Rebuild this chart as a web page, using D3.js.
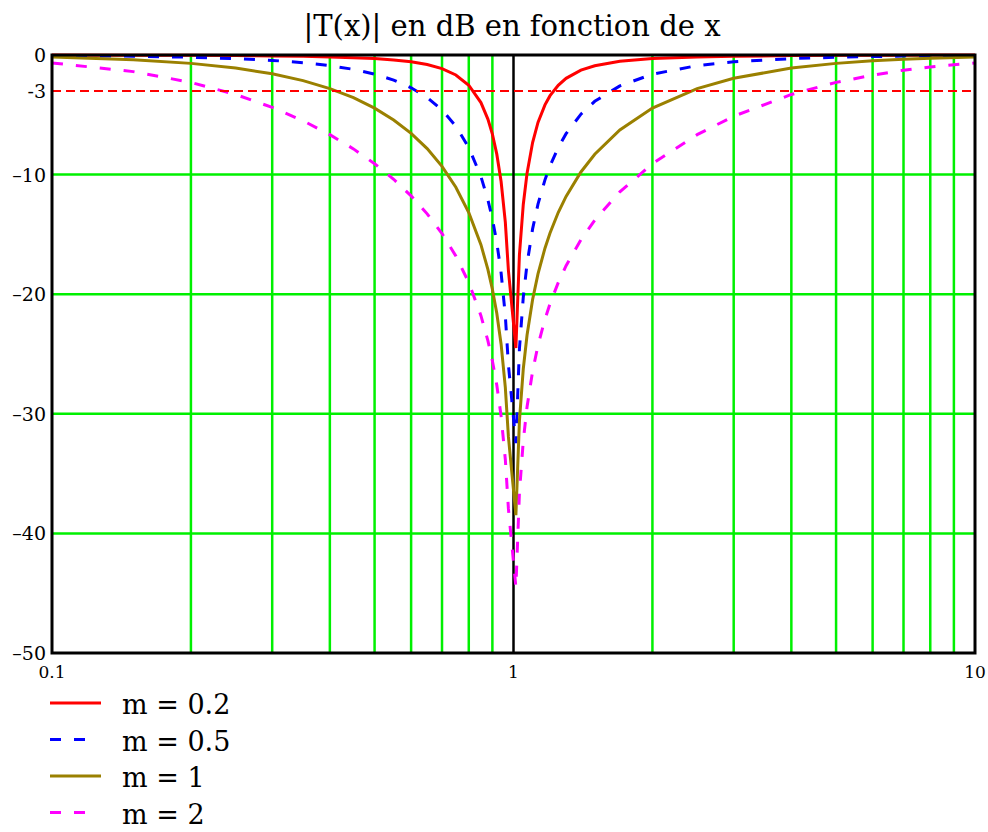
<!DOCTYPE html>
<html>
<head>
<meta charset="utf-8">
<script src="https://cdn.jsdelivr.net/npm/d3@7"></script>
<style>
  body { margin: 0; background: #fff; }
  svg { display: block; }
</style>
</head>
<body>
<div id="chart"></div>
<script>

// x values (reduced frequency) read along the log axis
var xs = [0.1, 0.15, 0.2, 0.25, 0.3, 0.35, 0.4, 0.45, 0.5, 0.55, 0.6, 0.65, 0.7, 0.75, 0.8, 0.85, 0.88, 0.9, 0.92, 0.94, 0.96, 0.975,
          1.012, 1.03, 1.05, 1.07, 1.1, 1.13, 1.17, 1.2, 1.25, 1.3, 1.4, 1.5, 1.7, 2, 2.5, 3, 4, 5, 6, 7, 8, 10];

// |T(x)| in dB, one array per m
var db_m02 = [-0.01, -0.02, -0.03, -0.05, -0.08, -0.11, -0.16, -0.22, -0.30, -0.41, -0.57, -0.80, -1.14, -1.67, -2.53, -3.98, -5.36, -6.62, -8.29, -10.58, -13.98, -18.02,
              -24.5, -16.7, -12.5, -9.88, -7.32, -5.64, -4.17, -3.40, -2.53, -1.95, -1.27, -0.90, -0.53, -0.30, -0.16, -0.10, -0.05, -0.03, -0.02, -0.02, -0.01, -0.01];
var db_m05 = [-0.04, -0.10, -0.19, -0.30, -0.45, -0.64, -0.89, -1.20, -1.60, -2.10, -2.74, -3.55, -4.60, -5.95, -7.74, -10.16, -12.10, -13.70, -15.67, -18.21, -21.79, -25.92,
              -32.45, -24.58, -20.25, -17.45, -14.54, -12.47, -10.44, -9.26, -7.74, -6.58, -4.95, -3.87, -2.58, -1.60, -0.89, -0.57, -0.30, -0.19, -0.13, -0.09, -0.07, -0.04];
var db_m1 = [-0.17, -0.39, -0.70, -1.09, -1.57, -2.14, -2.81, -3.57, -4.44, -5.43, -6.55, -7.83, -9.31, -11.06, -13.17, -15.86, -17.92, -19.58, -21.60, -24.18, -27.79, -31.93,
             -38.47, -30.59, -26.24, -23.41, -20.44, -18.30, -16.15, -14.88, -13.17, -11.82, -9.78, -8.30, -6.27, -4.44, -2.81, -1.94, -1.09, -0.70, -0.48, -0.36, -0.27, -0.17];
var db_m2 = [-0.66, -1.39, -2.29, -3.30, -4.38, -5.50, -6.66, -7.85, -9.09, -10.39, -11.78, -13.28, -14.93, -16.81, -19.03, -21.79, -23.88, -25.56, -27.60, -30.19, -33.80, -37.95,
             -44.49, -36.61, -32.25, -29.41, -26.44, -24.27, -22.09, -20.79, -19.03, -17.62, -15.44, -13.81, -11.44, -9.09, -6.66, -5.12, -3.30, -2.29, -1.68, -1.27, -1.00, -0.66];

var legendLabels = ["m = 0.2", "m = 0.5", "m = 1", "m = 2"];
var yTicks = [0, -3, -10, -20, -30, -40, -50];
var yTickLabels = ["0", "-3", "\u201310", "\u201320", "\u201330", "\u201340", "\u201350"];
var xTicks = [0.1, 1, 10];
var xTickLabels = ["0.1", "1", "10"];
var xGrid = [0.2, 0.3, 0.4, 0.5, 0.6, 0.7, 0.8, 0.9, 2, 3, 4, 5, 6, 7, 8, 9];
var yGrid = [-10, -20, -30, -40];

var series = [
  { values: db_m02, color: "#ff0000", dash: null },
  { values: db_m05, color: "#0000ff", dash: "11,13" },
  { values: db_m1,  color: "#9a8000", dash: null },
  { values: db_m2,  color: "#ff00ff", dash: "11,13" }
];

var serif = "'DejaVu Serif', 'Liberation Serif', serif";
var width = 988, height = 832;

var svg = d3.select("#chart").append("svg")
  .attr("width", width)
  .attr("height", height)
  .attr("font-family", serif);

var x = d3.scaleLog().domain([0.1, 10]).range([52, 975]);
var y = d3.scaleLinear().domain([-50, 0]).range([653, 55]);

// title
svg.append("text")
  .attr("x", 512)
  .attr("y", 36)
  .attr("text-anchor", "middle")
  .attr("font-size", 29)
  .text("|T(x)|  en dB en fonction de x");

// green grid
svg.selectAll(".vgrid")
  .data(xGrid)
  .enter()
  .append("line")
  .attr("class", "vgrid")
  .attr("x1", function(d){ return x(d) })
  .attr("x2", function(d){ return x(d) })
  .attr("y1", y(0))
  .attr("y2", y(-50))
  .attr("stroke", "#00f000")
  .attr("stroke-width", 2.5);

svg.selectAll(".hgrid")
  .data(yGrid)
  .enter()
  .append("line")
  .attr("class", "hgrid")
  .attr("x1", x(0.1))
  .attr("x2", x(10))
  .attr("y1", function(d){ return y(d) })
  .attr("y2", function(d){ return y(d) })
  .attr("stroke", "#00f000")
  .attr("stroke-width", 2.5);

// black line at x = 1
svg.append("line")
  .attr("x1", x(1)).attr("x2", x(1))
  .attr("y1", y(0)).attr("y2", y(-50))
  .attr("stroke", "#000")
  .attr("stroke-width", 2.5);

// curves
var line = d3.line()
  .x(function(d){ return x(d[0]) })
  .y(function(d){ return y(d[1]) });

series.forEach(function(s){
  svg.append("path")
    .datum(xs.map(function(v, i){ return [v, s.values[i]] }))
    .attr("fill", "none")
    .attr("stroke", s.color)
    .attr("stroke-width", 3)
    .attr("stroke-dasharray", s.dash)
    .attr("d", line);
});

// -3 dB line
svg.append("line")
  .attr("x1", x(0.1)).attr("x2", x(10))
  .attr("y1", y(-3)).attr("y2", y(-3))
  .attr("stroke", "#ff0000")
  .attr("stroke-width", 2)
  .attr("stroke-dasharray", "9,5");

// frame
svg.append("rect")
  .attr("x", x(0.1))
  .attr("y", y(0))
  .attr("width", x(10) - x(0.1))
  .attr("height", y(-50) - y(0))
  .attr("fill", "none")
  .attr("stroke", "#000")
  .attr("stroke-width", 3);

// y labels
svg.selectAll(".ylab")
  .data(yTicks)
  .enter()
  .append("text")
  .attr("class", "ylab")
  .attr("x", 46)
  .attr("y", function(d){ return y(d) + 7 })
  .attr("text-anchor", "end")
  .attr("font-size", 19)
  .text(function(d, i){ return yTickLabels[i] });

// x labels
svg.selectAll(".xlab")
  .data(xTicks)
  .enter()
  .append("text")
  .attr("class", "xlab")
  .attr("x", function(d){ return x(d) })
  .attr("y", 678)
  .attr("text-anchor", "middle")
  .attr("font-size", 17)
  .text(function(d, i){ return xTickLabels[i] });

// legend
var legend = svg.selectAll(".legend")
  .data(series)
  .enter()
  .append("g")
  .attr("class", "legend")
  .attr("transform", function(d, i){ return "translate(50," + (703 + i * 36.5) + ")" });

legend.append("line")
  .attr("x1", 0)
  .attr("x2", function(d){ return d.dash ? 35 : 51 })
  .attr("y1", 0).attr("y2", 0)
  .attr("stroke", function(d){ return d.color })
  .attr("stroke-width", 3)
  .attr("stroke-dasharray", function(d){ return d.dash });

legend.append("text")
  .attr("x", 72)
  .attr("y", 11)
  .attr("font-size", 27)
  .text(function(d, i){ return legendLabels[i] });

</script>
</body>
</html>
